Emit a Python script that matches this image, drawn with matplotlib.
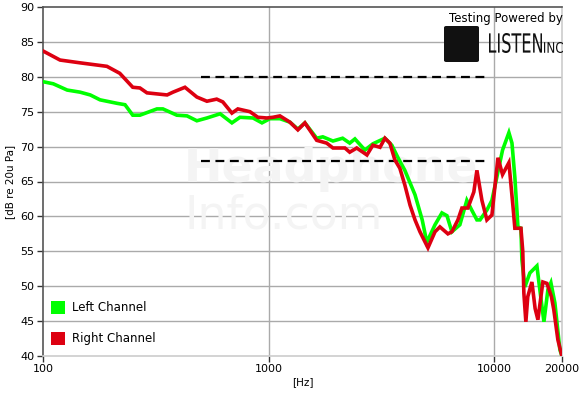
import matplotlib.pyplot as plt
import matplotlib.patches as patches
import numpy as np
from matplotlib.textpath import TextPath
from matplotlib.font_manager import FontProperties
from matplotlib.transforms import Affine2D

# frequency response (Hz, dB)
left_freq = [100, 111, 128, 146, 162, 179, 213, 231, 250, 269, 320, 340, 392, 435,
             481, 533, 610, 688, 747, 853, 935, 1014, 1123, 1244, 1349, 1449, 1635,
             1740, 1930, 2130, 2290, 2415, 2675, 2900, 3280, 3520, 3750, 4020, 4460,
             4800, 5030, 5470, 5870, 6180, 6500, 7050, 7570, 7960, 8390, 8660, 9290,
             9780, 10280, 10900, 11630, 12000, 12360, 12620, 12750, 13150, 13280,
             13690, 14410, 15480, 15950, 16630, 17320, 17860, 18600, 19570, 19980]
left_db = [79.3, 79.0, 78.1, 77.8, 77.4, 76.7, 76.2, 76.0, 74.5, 74.5, 75.4, 75.4,
           74.5, 74.4, 73.7, 74.1, 74.7, 73.4, 74.2, 74.1, 73.4, 74.0, 74.0, 73.5,
           72.5, 73.4, 71.2, 71.4, 70.8, 71.2, 70.5, 71.1, 69.5, 70.4, 71.2, 70.2,
           68.4, 66.6, 63.1, 59.5, 56.3, 58.8, 60.5, 60.1, 57.8, 58.8, 62.3, 60.9,
           59.5, 59.5, 60.9, 62.3, 65.6, 69.5, 72.0, 70.5, 65.6, 60.9, 58.5, 58.3,
           53.8, 49.9, 51.9, 52.9, 49.5, 44.9, 49.5, 50.5, 47.6, 40.9, 40.0]

right_freq = [100, 119, 146, 192, 219, 250, 269, 289, 355, 377, 426, 481, 533, 589,
              627, 688, 731, 827, 897, 983, 1046, 1123, 1244, 1349, 1449, 1635, 1810,
              1930, 2180, 2290, 2460, 2730, 2900, 3120, 3280, 3450, 3630, 3820, 4020,
              4240, 4460, 4690, 5090, 5470, 5750, 6240, 6500, 6910, 7200, 7650, 8130,
              8390, 8830, 9290, 9780, 10400, 10900, 11630, 12120, 12360, 12750, 13150,
              13400, 13550, 13830, 14100, 14710, 15200, 15640, 16450, 17150, 17950,
              18400, 19180, 19980]
right_db = [83.7, 82.4, 82.0, 81.5, 80.5, 78.5, 78.4, 77.7, 77.4, 77.8, 78.5, 77.1,
            76.5, 76.8, 76.4, 74.8, 75.4, 75.0, 74.2, 74.1, 74.2, 74.4, 73.5, 72.4,
            73.4, 70.9, 70.5, 69.8, 69.8, 69.2, 69.8, 68.8, 70.2, 69.9, 71.2, 70.5,
            68.1, 66.9, 64.5, 61.6, 59.5, 57.8, 55.5, 57.8, 58.5, 57.5, 57.8, 59.5,
            61.2, 61.2, 63.5, 66.6, 62.3, 59.5, 60.2, 68.4, 66.0, 67.7, 61.5, 58.3,
            58.3, 58.3, 55.0, 49.0, 44.9, 48.5, 50.6, 46.8, 45.2, 50.6, 50.4, 48.5,
            46.6, 42.3, 40.0]

# target band limits (dashed lines)
band_freq = [500, 9400]
band_upper = 80
band_lower = 68

W, H = 583, 395
fig = plt.figure(figsize=(5.83, 3.95), dpi=100)
ax = fig.add_axes([43 / W, 39 / H, 519 / W, 349 / H])

ax.set_xscale("log")
ax.set_xlim(100, 20000)
ax.set_ylim(40, 90)

# grid: every 5 dB, only decade lines vertically
for v in range(45, 90, 5):
    ax.axhline(v, color="#aaaaaa", lw=1, zorder=0)
for f in [1000, 10000]:
    ax.axvline(f, color="#aaaaaa", lw=1, zorder=0)

# watermark
ax.text(0.272, 0.535, "Headphone", transform=ax.transAxes, fontsize=33,
        color="#f4f4f4", fontweight="bold", ha="left", va="center", zorder=0)
ax.text(0.272, 0.40, "Info.com", transform=ax.transAxes, fontsize=33,
        color="#f4f4f4", ha="left", va="center", zorder=0)

ax.plot(band_freq, [band_upper, band_upper], color="black", lw=1.6,
        dashes=(4, 2.5), zorder=2)
ax.plot(band_freq, [band_lower, band_lower], color="black", lw=1.6,
        dashes=(4, 2.5), zorder=2)

ax.plot(left_freq, left_db, color="#00ff00", lw=2.6, zorder=3,
        solid_joinstyle="miter")
ax.plot(right_freq, right_db, color="#dd0011", lw=2.6, zorder=4,
        solid_joinstyle="miter")

ax.set_xticks([100, 1000, 10000, 20000])
ax.set_xticklabels(["100", "1000", "10000", "20000"])
ax.xaxis.set_minor_locator(plt.NullLocator())
ax.set_yticks(range(40, 91, 5))
ax.tick_params(axis="both", labelsize=8, length=4, width=1, color="#333333",
               direction="out", pad=2)

for s in ["left", "top"]:
    ax.spines[s].set_color("#555555")
for s in ["right", "bottom"]:
    ax.spines[s].set_color("#cccccc")
for s in ax.spines.values():
    s.set_linewidth(1.2)

ax.set_xlabel("[Hz]", fontsize=7.5, labelpad=2)
ax.set_ylabel("[dB re 20u Pa]", fontsize=7.5, labelpad=4)

# legend
handles = [patches.Patch(facecolor="#00ff00", edgecolor="none", label="Left Channel"),
           patches.Patch(facecolor="#dd0011", edgecolor="none", label="Right Channel")]
ax.legend(handles=handles, loc="lower left", bbox_to_anchor=(-0.005, 0.0),
          frameon=False, fontsize=8.5, handlelength=1.2, handleheight=1.3,
          labelspacing=1.5, handletextpad=0.55)


# logo: condensed lettering squeezed into a pixel box
def boxed_text(s, x0, y0, x1, y1):
    tp = TextPath((0, 0), s, size=1, prop=FontProperties(family="DejaVu Sans"))
    ext = tp.get_extents()
    tr = (Affine2D().translate(-ext.x0, -ext.y0)
          .scale((x1 - x0) / W / ext.width, (y1 - y0) / H / ext.height)
          .translate(x0 / W, (H - y1) / H) + fig.transFigure)
    fig.patches.append(patches.PathPatch(tp, transform=tr, facecolor="#111111",
                                         edgecolor="none"))


fig.text(0.965, 0.952, "Testing Powered by", fontsize=8.5, ha="right", va="center")
fig.patches.append(patches.FancyBboxPatch((444 / W, (H - 62) / H), 35 / W, 36 / H,
                                          boxstyle="round,pad=0,rounding_size=0.004",
                                          transform=fig.transFigure,
                                          facecolor="#111111", edgecolor="none"))
boxed_text("LISTEN", 489, 33, 542, 53)
boxed_text("INC", 544, 42, 563, 53)

fig.savefig("out.png", dpi=100)
